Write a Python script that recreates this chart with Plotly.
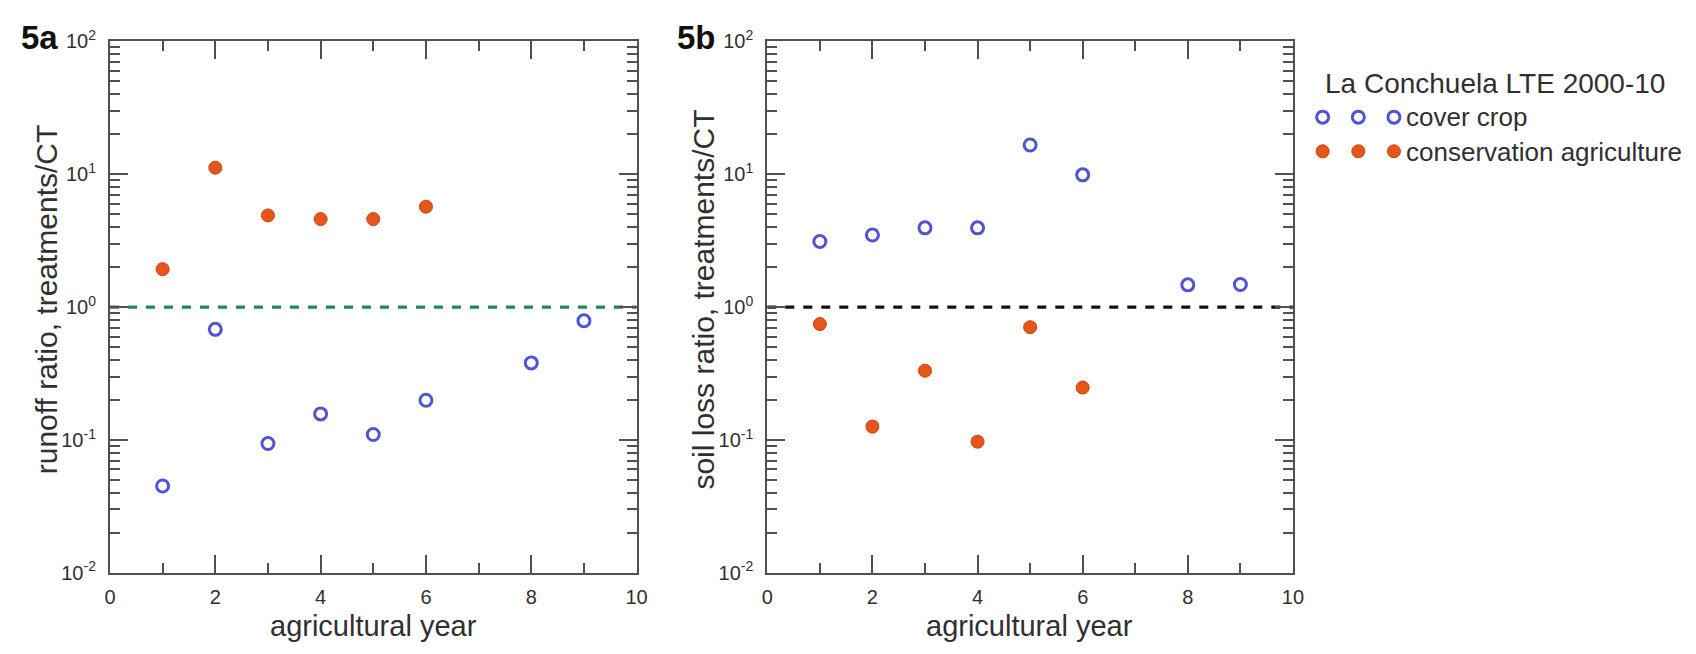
import plotly.graph_objects as go

W, H = 1696, 654

# ---- data ----
years_cc_a = [1, 2, 3, 4, 5, 6, 8, 9]
runoff_cover = [0.045, 0.68, 0.094, 0.157, 0.11, 0.199, 0.38, 0.79]
years_ca_a = [1, 2, 3, 4, 5, 6]
runoff_cons = [1.93, 11.2, 4.9, 4.6, 4.6, 5.7]

years_cc_b = [1, 2, 3, 4, 5, 6, 8, 9]
soil_cover = [3.12, 3.49, 3.95, 3.95, 16.6, 9.9, 1.47, 1.48]
years_ca_b = [1, 2, 3, 4, 5, 6]
soil_cons = [0.745, 0.126, 0.332, 0.097, 0.706, 0.248]

ref_x = [0, 10]
ref_y = [1, 1]

x_ticks = [0, 2, 4, 6, 8, 10]
x_minor = [1, 3, 5, 7, 9]
y_ticks = [0.01, 0.1, 1, 10, 100]
y_ticktext = ["10<sup>-2</sup>", "10<sup>-1</sup>", "10<sup>0</sup>", "10<sup>1</sup>", "10<sup>2</sup>"]
y_minor = [k * d for d in (0.01, 0.1, 1, 10) for k in range(2, 10)]

legend_title = "La Conchuela LTE 2000-10"
legend_labels = ["cover crop", "conservation agriculture"]
legend_samples = [0, 1, 2]

# ---- style ----
FONT = "Liberation Sans, Arial, Helvetica, sans-serif"
AX = "#505050"
TXT = "#303030"
BLUE = "#5252d4"
ORANGE = "#e5561b"
ORANGE_EDGE = "#c9430f"

def px_x(p):
    return p / W

def px_y(p):
    return 1 - p / H

top, bottom = 28.5, 581
ydom = [px_y(bottom), px_y(top)]
left_dom = [px_x(105), px_x(637)]
right_dom = [px_x(769), px_x(1300)]

fig = go.Figure()

blue_marker = dict(symbol="circle-open", size=12, color=BLUE, line=dict(width=3, color=BLUE))
orange_marker = dict(symbol="circle", size=13, color=ORANGE, line=dict(width=1, color=ORANGE_EDGE))

# Panel a
fig.add_trace(go.Scatter(x=ref_x, y=ref_y, mode="lines", xaxis="x", yaxis="y",
                         line=dict(color="#23875a", width=3.2, dash="9px,9px"), showlegend=False))
fig.add_trace(go.Scatter(x=years_ca_a, y=runoff_cons, mode="markers", xaxis="x", yaxis="y",
                         marker=orange_marker, showlegend=False))
fig.add_trace(go.Scatter(x=years_cc_a, y=runoff_cover, mode="markers", xaxis="x", yaxis="y",
                         marker=blue_marker, showlegend=False))
# Panel b
fig.add_trace(go.Scatter(x=ref_x, y=ref_y, mode="lines", xaxis="x2", yaxis="y2",
                         line=dict(color="#111111", width=3.2, dash="9px,9px"), showlegend=False))
fig.add_trace(go.Scatter(x=years_cc_b, y=soil_cover, mode="markers", xaxis="x2", yaxis="y2",
                         marker=blue_marker, showlegend=False))
fig.add_trace(go.Scatter(x=years_ca_b, y=soil_cons, mode="markers", xaxis="x2", yaxis="y2",
                         marker=orange_marker, showlegend=False))

# Legend samples (drawn on a hidden axis pair)
fig.add_trace(go.Scatter(x=legend_samples, y=[legend_labels[0]] * len(legend_samples), mode="markers",
                         xaxis="x3", yaxis="y3", marker=blue_marker, showlegend=False))
fig.add_trace(go.Scatter(x=legend_samples, y=[legend_labels[1]] * len(legend_samples), mode="markers",
                         xaxis="x3", yaxis="y3", marker=orange_marker, showlegend=False))

def xaxis(dom, anchor):
    return dict(domain=dom, anchor=anchor, range=[0, 10], tickvals=x_ticks,
                ticks="inside", ticklen=18, tickwidth=2, tickcolor=AX,
                showline=True, linecolor=AX, linewidth=2, mirror="ticks",
                showgrid=False, zeroline=False, ticklabelstandoff=5,
                tickfont=dict(family=FONT, size=20, color=TXT),
                minor=dict(tickvals=x_minor, ticks="inside", ticklen=10, tickwidth=2, tickcolor=AX))

def yaxis(anchor):
    return dict(domain=ydom, anchor=anchor, type="log", range=[-2, 2],
                tickvals=y_ticks, ticktext=y_ticktext,
                ticks="inside", ticklen=18, tickwidth=2, tickcolor=AX,
                showline=True, linecolor=AX, linewidth=2, mirror="ticks",
                showgrid=False, zeroline=False, ticklabelstandoff=8,
                tickfont=dict(family=FONT, size=20, color=TXT),
                minor=dict(tickvals=y_minor, ticks="inside", ticklen=10, tickwidth=1.5, tickcolor=AX))

fig.update_layout(
    width=W, height=H, margin=dict(l=0, r=0, t=0, b=0),
    paper_bgcolor="white", plot_bgcolor="white",
    font=dict(family=FONT, color=TXT),
    showlegend=False,
    xaxis=xaxis(left_dom, "y"), yaxis=yaxis("x"),
    xaxis2=xaxis(right_dom, "y2"), yaxis2=yaxis("x2"),
    xaxis3=dict(domain=[px_x(1312), px_x(1420)], anchor="y3", range=[-0.5, 2.5], visible=False),
    yaxis3=dict(domain=[px_y(160.5), px_y(89.5)], anchor="x3", type="category",
                categoryorder="array", categoryarray=legend_labels, range=[1.5, -0.5], visible=False),
)

ann = []
def text(x, y, s, size, xanchor="center", angle=0, bold=False, color=TXT):
    ann.append(dict(x=px_x(x), y=px_y(y), xref="paper", yref="paper", text=("<b>%s</b>" % s) if bold else s,
                    showarrow=False, xanchor=xanchor, yanchor="middle", textangle=angle,
                    font=dict(family=FONT, size=size, color=color)))

text(13, 24, "5a", 33, xanchor="left", bold=True, color="#111111")
text(676, 24, "5b", 33, xanchor="left", bold=True, color="#111111")
text(371, 636, "agricultural year", 29)
text(1034, 636, "agricultural year", 29)
text(41, 297, "runoff ratio, treatments/CT", 30, angle=-90)
text(705, 297, "soil loss ratio, treatments/CT", 30, angle=-90)
text(1504, 72, legend_title, 28)
text(1412, 107, legend_labels[0], 26, xanchor="left")
text(1412, 143, legend_labels[1], 26, xanchor="left")
fig.update_layout(annotations=ann)

fig.write_html("out.html")
